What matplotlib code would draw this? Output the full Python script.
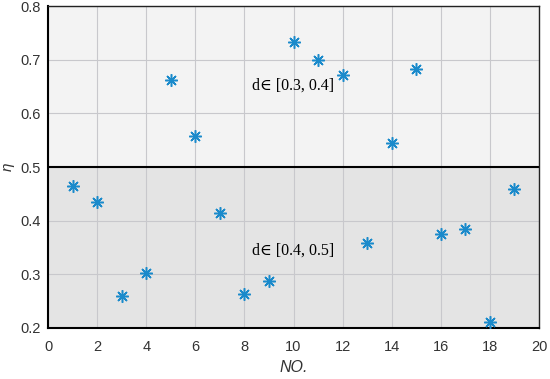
import matplotlib
matplotlib.use("Agg")
from matplotlib import pyplot as plt

# sample number and efficiency values
no = list(range(1, 20))
eta = [0.465, 0.435, 0.260, 0.303, 0.662, 0.557, 0.415, 0.264, 0.287, 0.733,
       0.700, 0.671, 0.359, 0.544, 0.682, 0.375, 0.385, 0.211, 0.459]

x_ticks = [0, 2, 4, 6, 8, 10, 12, 14, 16, 18, 20]
y_ticks = [0.2, 0.3, 0.4, 0.5, 0.6, 0.7, 0.8]
split = 0.5
labels = ["d\u2208 [0.3, 0.4]", "d\u2208 [0.4, 0.5]"]

plt.rcParams['font.family'] = ['Liberation Sans', 'DejaVu Sans']

fig = plt.figure(figsize=(5.5, 3.79), dpi=100)
ax = fig.add_axes([0.0873, 0.1346, 0.8927, 0.8494])

ax.set_xlim(0, 20)
ax.set_ylim(0.2, 0.8)
ax.axhspan(split, 0.8, color="#f3f3f3", zorder=0)
ax.axhspan(0.2, split, color="#e4e4e4", zorder=0)
ax.axhline(split, color="black", lw=1.5, zorder=2)

ax.grid(True, color="#c8c8cc", lw=0.8, zorder=1)
ax.set_axisbelow(True)

ax.plot(no, eta, linestyle="none", marker=(8, 2, 0), markersize=9,
        markeredgewidth=1.1, color="#1a8acb", zorder=3)

serif = ["Liberation Serif", "DejaVu Serif"]
ax.text(8.3, 0.651, labels[0], family=serif, fontsize=11.5, va="center")
ax.text(8.3, 0.345, labels[1], family=serif, fontsize=11.5, va="center")

ax.set_xticks(x_ticks)
ax.set_yticks(y_ticks)
ax.set_xticklabels([str(t) for t in x_ticks])
ax.set_yticklabels(["%.1f" % t for t in y_ticks])
ax.tick_params(labelsize=10.5, colors="#333333", direction="in", length=0)
ax.tick_params(axis="x", pad=9)
ax.tick_params(axis="y", pad=5)

for s in ["left", "bottom"]:
    ax.spines[s].set_linewidth(1.5)
    ax.spines[s].set_color("black")
for s in ["top", "right"]:
    ax.spines[s].set_linewidth(1.0)
    ax.spines[s].set_color("#222222")

ax.set_xlabel("NO.", fontsize=11.5, style="italic", color="#333333", labelpad=4)
ax.set_ylabel("\u03b7", fontsize=11, style="italic", color="#333333", labelpad=4)

fig.savefig("out.png", dpi=100)
